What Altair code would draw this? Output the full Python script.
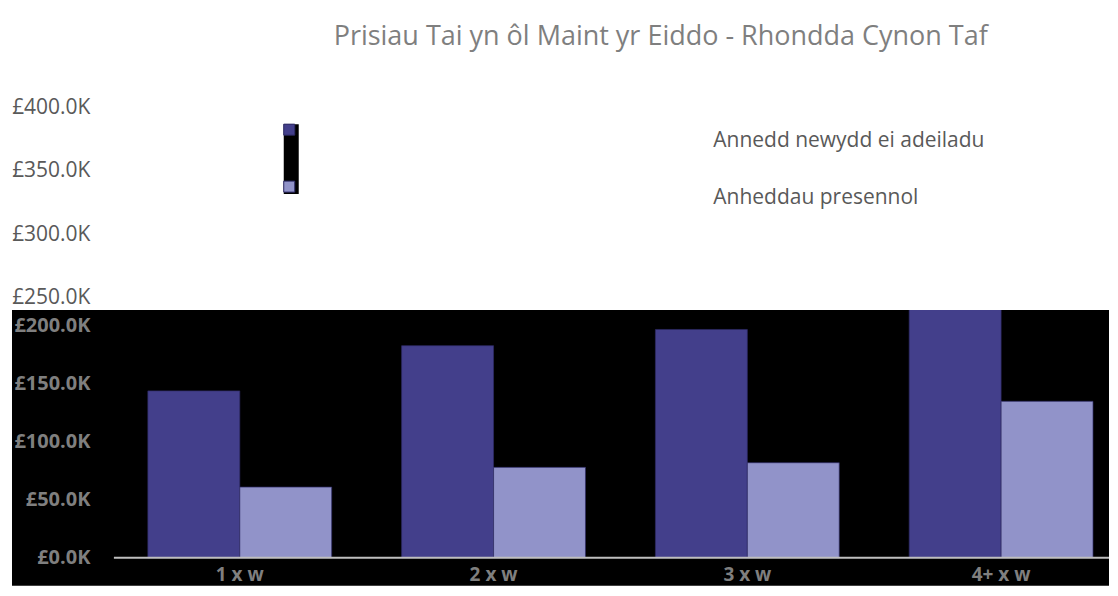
import altair as alt
import pandas as pd

# ---- data ----
categories = ["1 x w", "2 x w", "3 x w", "4+ x w"]
series = ["Annedd newydd ei adeiladu", "Anheddau presennol"]
new_build = [144000, 183000, 197000, 228000]
existing = [61000, 78000, 82000, 135000]
ticks_low = [0, 50000, 100000, 150000, 200000]
ticks_high = [250000, 300000, 350000, 400000]
colors = ["#433f8b", "#9193c9"]
title_text = "Prisiau Tai yn ôl Maint yr Eiddo - Rhondda Cynon Taf"

rows = []
for i, c in enumerate(categories):
    rows.append({"cat": c, "series": series[0], "value": new_build[i]})
    rows.append({"cat": c, "series": series[1], "value": existing[i]})
df = pd.DataFrame(rows)
cat_df = pd.DataFrame({"cat": categories})

W = 996
H_TOP = 250
H_BOT = 276
H_BARS = 248
label_expr = "'£' + format(datum.value / 1000, '.1f') + 'K'"

# ---- upper (white) panel: upper axis labels + legend box ----
top_axis = alt.Chart(pd.DataFrame({"v": ticks_high})).mark_point(opacity=0).encode(
    y=alt.Y("v:Q",
            scale=alt.Scale(domain=[240100, 437500], nice=False, zero=False),
            axis=alt.Axis(values=ticks_high, labelExpr=label_expr, title=None,
                          labelColor="#595959", labelFont="Open Sans", labelFontSize=21,
                          labelPadding=24, tickSize=0, ticks=False, domain=False, grid=False))
)
legend_box = alt.Chart(pd.DataFrame({"a": [0]})).mark_rect(color="black").encode(
    x=alt.value(170), x2=alt.value(185), y=alt.value(64), y2=alt.value(134)
)
top = alt.layer(legend_box, top_axis).properties(width=W, height=H_TOP)

# ---- lower (black) panel: bars ----
black_bg = alt.Chart(pd.DataFrame({"a": [0]})).mark_rect(color="black", clip=False).encode(
    x=alt.value(-102), x2=alt.value(W), y=alt.value(0), y2=alt.value(H_BOT)
)
x_enc = alt.X("cat:N", sort=categories,
              scale=alt.Scale(paddingInner=0.2756, paddingOuter=0.0984, align=0.68),
              axis=None)
y_scale = alt.Scale(domain=[0, 213800], nice=False, range=[H_BARS, 0])

bars = alt.Chart(df).mark_bar(clip=True, stroke="#2e2b66", strokeWidth=1, strokeOpacity=0.7).encode(
    x=x_enc,
    xOffset=alt.XOffset("series:N", sort=series, scale=alt.Scale(paddingInner=0, paddingOuter=0)),
    y=alt.Y("value:Q", scale=y_scale,
            axis=alt.Axis(values=ticks_low, labelExpr=label_expr, title=None,
                          labelColor="#7f7f7f", labelFont="Open Sans", labelFontSize=20,
                          labelFontWeight="bold", labelPadding=24, ticks=False, tickSize=0,
                          domain=False, grid=False, zindex=1)),
    color=alt.Color("series:N", sort=series,
                    scale=alt.Scale(domain=series, range=colors),
                    legend=alt.Legend(orient="none", legendX=165, legendY=59, title=None,
                                      symbolType="square", symbolSize=121, labelOffset=414,
                                      rowPadding=25, labelFontSize=21, labelFont="Open Sans",
                                      labelColor="#595959", labelBaseline="top", labelLimit=500,
                                      symbolStrokeColor="#2e2b66", symbolStrokeWidth=1,
                                      symbolOpacity=1, padding=0)),
)
zero_line = alt.Chart(pd.DataFrame({"z": [0]})).mark_rule(color="#bfbfbf", strokeWidth=2).encode(
    y=alt.Y("z:Q", scale=y_scale)
)
x_labels = alt.Chart(cat_df).mark_text(
    baseline="bottom", fontSize=19, fontWeight="bold", font="Open Sans", color="#7f7f7f"
).encode(x=x_enc, y=alt.value(H_BOT - 1), text="cat:N")

bottom = alt.layer(black_bg, bars, zero_line, x_labels).properties(width=W, height=H_BOT)

chart = alt.vconcat(top, bottom, spacing=0).properties(
    title=alt.TitleParams(title_text, fontSize=27, font="Open Sans", fontWeight="normal",
                          color="#7f7f7f", anchor="middle", dx=100, offset=9),
    padding={"left": 3, "top": 15, "right": 0, "bottom": 0},
    background="white",
).configure_view(stroke=None)

chart.save("out.html", embed_options={"renderer": "svg", "actions": False})
